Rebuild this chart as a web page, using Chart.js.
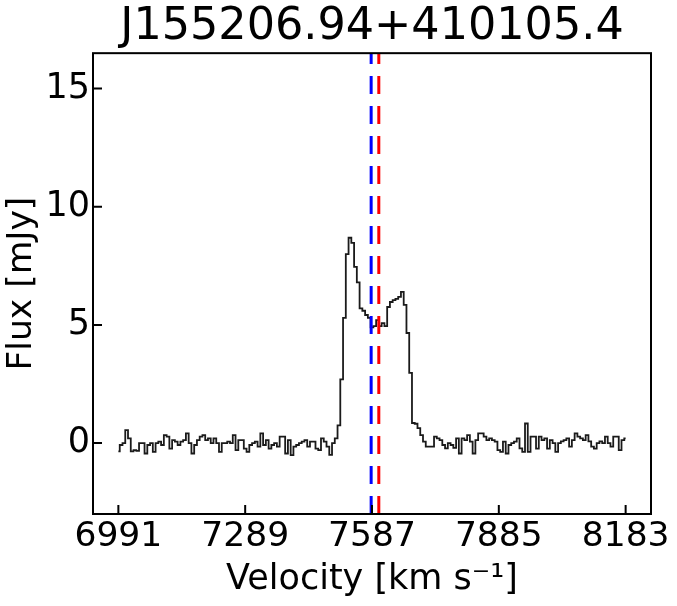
<!DOCTYPE html>
<html>
<head>
<meta charset="utf-8">
<script src="https://cdn.jsdelivr.net/npm/chart.js@4/dist/chart.umd.min.js"></script>
<style>
  html, body { margin: 0; padding: 0; background: #ffffff; }
  #c { display: block; }
</style>
</head>
<body>
<canvas id="c" width="677" height="606"></canvas>
<script>
// ---- data ----
const TITLE = "J155206.94+410105.4";
const VEL_START = 6991;          // km/s, first channel
const VEL_END = 8183;            // km/s, last channel
const X_TICKS = [6991, 7289, 7587, 7885, 8183];
const Y_TICKS = [0, 5, 10, 15];
const X_RANGE = [6931.4, 8242.6];
const Y_RANGE = [-3, 16.5];
const V_BLUE = 7585;             // blue dashed marker
const V_RED = 7603;              // red dashed marker

// flux per channel [mJy]
const fluxBaseLeft = [
  -0.35, -0.08, 0.0, 0.55, 0.2, -0.35, -0.3, -0.33, 0.0, 0.0,
  -0.44, -0.08, 0.0, -0.37, 0.0, 0.06, -0.08, 0.34, 0.27, -0.23,
  0.13, 0.06, -0.08, 0.06, 0.13, 0.41, 0.0, -0.44, -0.08, 0.13,
  0.27, 0.34, 0.13, 0.2, 0.0, 0.2, 0.0, -0.37, 0.0, 0.0,
  0.06, 0.0, 0.34,
  -0.3, 0.13, 0.13, -0.23, -0.37, -0.08, 0.0, 0.06, -0.15, 0.41,
  -0.08, 0.13, -0.23, -0.08, 0.0, -0.15, 0.27, 0.27, -0.44, 0.13,
  -0.51, -0.15, -0.08, 0.0, 0.06, 0.13, -0.15, 0.06, 0.06, -0.23,
  -0.3, 0.2, 0.06, -0.15, -0.5, 0.0, 0.2
];
const fluxLine = [
  0.75, 2.7, 5.3, 8.0, 8.69, 8.47, 7.46, 6.8, 5.7, 5.6,
  5.42, 5.3, 4.9, 4.95, 5.2, 4.95, 5.08, 4.95, 5.76, 5.97,
  6.05, 6.1, 6.19, 6.4, 5.85, 4.66, 2.97, 0.85, 0.82, 0.63,
  0.34, 0.06
];
const fluxBaseRight = [
  -0.15, -0.15, -0.15,
  0.27, 0.2, 0.13, -0.08, -0.22, 0.0, -0.08, -0.2, 0.2, -0.44,
  0.2, 0.13, 0.34, 0.06, -0.44, 0.13, 0.41, 0.41, 0.27, 0.13,
  0.2, 0.13, 0.06, -0.3, -0.37, 0.06, -0.44, -0.08, 0.0, 0.06,
  0.2, -0.22, -0.37,
  0.83,
  -0.37, 0.27, 0.27, -0.23, 0.27, 0.13, 0.2, -0.23, 0.13, 0.0,
  -0.37, 0.0, 0.07, 0.13, 0.2, -0.15, 0.13, 0.41, 0.27, 0.2,
  0.13, 0.34, 0.07, -0.15, -0.23, 0.0, 0.07, 0.0, 0.27, 0.0,
  -0.15, 0.27, 0.27, -0.3, 0.13, 0.2
];

const flux = fluxBaseLeft.concat(fluxLine, fluxBaseRight);
const nChan = flux.length;
const chanWidth = (VEL_END - VEL_START) / (nChan - 1);
const points = flux.map((f, i) => ({ x: VEL_START + i * chanWidth, y: f }));

// ---- drawing ----
const FONT = "'DejaVu Sans', 'Liberation Sans', sans-serif";
Chart.defaults.color = '#000';
Chart.defaults.font.family = FONT;

const decorPlugin = {
  id: 'decor',
  afterDatasetsDraw(chart) {
    const { ctx, chartArea: { top, bottom }, scales: { x } } = chart;
    ctx.save();
    ctx.lineWidth = 3;
    ctx.setLineDash([18, 12]);
    [[V_BLUE, '#0000ff'], [V_RED, '#ff0000']].forEach(([v, col]) => {
      const px = x.getPixelForValue(v);
      ctx.strokeStyle = col;
      ctx.beginPath();
      ctx.moveTo(px, bottom);
      ctx.lineTo(px, top);
      ctx.stroke();
    });
    ctx.restore();
  },
  afterDraw(chart) {
    const { ctx, chartArea: { left, right, top, bottom }, scales: { x, y } } = chart;
    ctx.save();
    ctx.strokeStyle = '#000';
    ctx.lineWidth = 2;
    ctx.setLineDash([]);
    ctx.beginPath();
    X_TICKS.forEach(v => {
      const p = x.getPixelForValue(v);
      ctx.moveTo(p, bottom);
      ctx.lineTo(p, bottom - 9);
    });
    Y_TICKS.forEach(v => {
      const p = y.getPixelForValue(v);
      ctx.moveTo(left, p);
      ctx.lineTo(left + 9, p);
    });
    ctx.stroke();
    ctx.strokeRect(left, top, right - left, bottom - top);
    ctx.restore();
  }
};

new Chart(document.getElementById('c'), {
  type: 'line',
  data: {
    datasets: [{
      data: points,
      stepped: 'middle',
      borderColor: '#1a1a1a',
      borderWidth: 1.8,
      pointRadius: 0,
      fill: false
    }]
  },
  options: {
    responsive: false,
    animation: false,
    layout: { padding: { left: 0, right: 26, top: 0, bottom: 0 } },
    plugins: {
      legend: { display: false },
      tooltip: { enabled: false },
      title: {
        display: true,
        text: TITLE,
        fullSize: false,
        color: '#000',
        font: { family: FONT, size: 44.5, weight: 'normal', lineHeight: 1.15 },
        padding: { top: 2, bottom: 0 }
      }
    },
    scales: {
      x: {
        type: 'linear',
        min: X_RANGE[0],
        max: X_RANGE[1],
        grid: { display: false, drawTicks: false },
        border: { display: false },
        afterBuildTicks: s => { s.ticks = X_TICKS.map(v => ({ value: v })); },
        afterFit: s => { s.height = 92; },
        ticks: {
          autoSkip: false,
          maxRotation: 0,
          padding: 2,
          color: '#000',
          font: { family: FONT, size: 34.5 },
          callback: v => String(v)
        },
        title: {
          display: true,
          text: 'Velocity [km s\u207B\u00B9]',
          color: '#000',
          font: { family: FONT, size: 35 },
          padding: { top: 0, bottom: 5 }
        }
      },
      y: {
        type: 'linear',
        min: Y_RANGE[0],
        max: Y_RANGE[1],
        grid: { display: false, drawTicks: false },
        border: { display: false },
        afterBuildTicks: s => { s.ticks = Y_TICKS.map(v => ({ value: v })); },
        afterFit: s => { s.width = 93; },
        ticks: {
          padding: 3,
          color: '#000',
          font: { family: FONT, size: 35 },
          callback: v => String(v)
        },
        title: {
          display: true,
          text: 'Flux [mJy]',
          color: '#000',
          font: { family: FONT, size: 34.5 },
          padding: { top: 1, bottom: 0 }
        }
      }
    }
  },
  plugins: [decorPlugin]
});
</script>
</body>
</html>
